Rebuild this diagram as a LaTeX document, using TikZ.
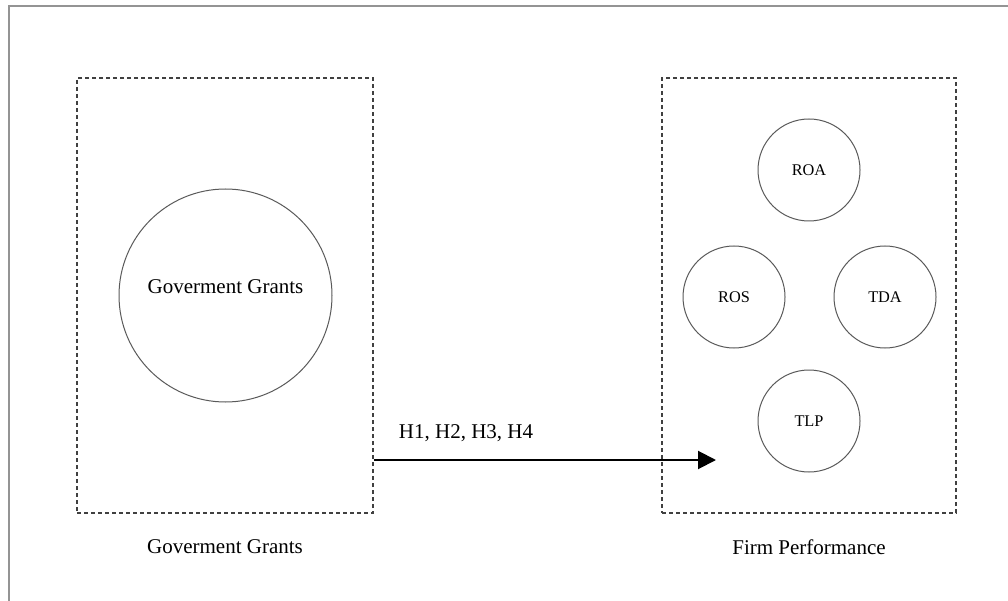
\documentclass[tikz,border=0pt]{standalone}
\usepackage{fontspec}
\setmainfont{Liberation Serif}
\usetikzlibrary{arrows.meta}
\begin{document}
\begin{tikzpicture}[x=1pt,y=-1pt,
  dashbox/.style={draw=black!75, line width=1.4pt, dash pattern=on 4pt off 3pt},
  ring/.style={circle, draw=black!65, line width=1pt, inner sep=0pt},
  small/.style={font=\fontsize{16.3}{19}\selectfont},
  big/.style={font=\fontsize{21}{25}\selectfont},
  link/.style={line width=2pt, -{Triangle[length=18pt,width=18pt]}}]
\useasboundingbox (0,0) rectangle (1008,601);
\begin{scope}
\clip (0,0) rectangle (1008,601);
\draw[draw=black!42, line width=2.2pt] (9,6) rectangle (1020,620);
\end{scope}
% boxes
\node[dashbox, minimum width=296pt, minimum height=435pt, inner sep=0pt] (left) at (225,295.5) {};
\node[dashbox, minimum width=294pt, minimum height=435pt, inner sep=0pt] (right) at (809,295.5) {};
% circles
\node[ring, minimum size=213pt] (gg) at (225.5,295.5) {};
\node[big] (ggt) at (225.5,287) {Goverment Grants};
\node[ring, minimum size=102pt, small] (roa) at (809,170) {ROA};
\node[ring, minimum size=102pt, small] (ros) at (734,297) {ROS};
\node[ring, minimum size=102pt, small] (tda) at (885,297) {TDA};
\node[ring, minimum size=102pt, small] (tlp) at (809,421) {TLP};
% labels
\node[big] (gl) at (225,547) {Goverment Grants};
\node[big] (fl) at (809,547) {Firm Performance};
% arrow
\coordinate (tip) at (716,460);
\draw[link] (left.east |- tip) -- (tip);
\node[big] (hl) at (466,433) {H1, H2, H3, H4};
\end{tikzpicture}
\end{document}
